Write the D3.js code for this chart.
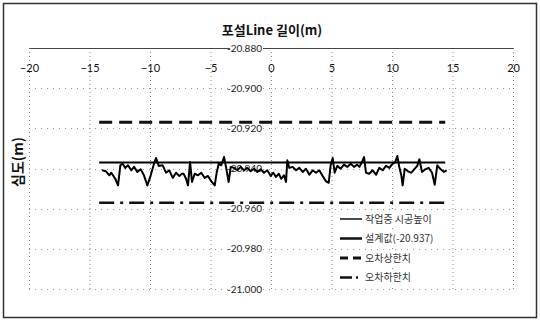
<!DOCTYPE html>
<html><head><meta charset="utf-8">
<script src="https://cdn.jsdelivr.net/npm/d3@7"></script>
<style>
html,body{margin:0;padding:0;background:#fff;}
svg{display:block;}
</style></head>
<body>
<svg id="c" width="540" height="322"></svg>
<script>
// ---- data ----
const chartTitle = "포설Line 길이(m)";
const yTitle = "심도(m)";
const xTicks = [-20, -15, -10, -5, 0, 5, 10, 15, 20];
const yTicks = [-20.880, -20.900, -20.920, -20.940, -20.960, -20.980, -21.000];
const seriesNames = ["작업중 시공높이", "설계값(-20.937)", "오차상한치", "오차하한치"];
const refRange = [-14.2, 14.4];
const designValue = -20.937;
const upperLimit = -20.917;
const lowerLimit = -20.957;
const measX = [-13.97,-13.64,-13.36,-13.20,-12.87,-12.64,-12.45,-12.26,-12.04,-11.82,-11.55,-11.32,-11.05,-10.77,-10.50,-10.22,-9.94,-9.67,-9.50,-9.28,-8.95,-8.68,-8.40,-8.12,-7.85,-7.58,-7.36,
 -7.22,-7.02,-6.86,-6.69,-6.53,-6.31,-6.03,-5.76,-5.48,-5.21,-4.93,-4.65,-4.49,-4.32,-4.11,-3.88,-3.72,-3.50,-3.33,-3.06,-2.79,-2.50,-2.23,-1.96,-1.68,-1.40,-1.13,-0.85,-0.58,-0.31,
 -0.02,0.19,0.41,0.64,0.85,1.07,1.24,1.35,1.51,1.79,2.07,2.34,2.62,2.89,3.17,3.45,3.72,3.99,4.27,4.55,4.77,4.93,5.10,5.26,5.48,5.76,6.03,6.31,6.59,6.86,7.13,
 7.30,7.52,7.69,7.85,8.12,8.40,8.68,8.95,9.23,9.50,9.78,10.06,10.27,10.44,10.60,10.77,10.88,11.05,11.32,11.60,11.88,12.09,12.26,12.48,12.75,13.03,13.31,13.53,13.74,14.02,14.30,14.52];
const measY = [-20.9409,-20.9414,-20.9434,-20.9421,-20.9451,-20.9484,-20.9384,-20.9376,-20.9397,-20.9384,-20.9409,-20.9392,-20.9417,-20.9404,-20.9434,-20.9484,-20.9434,-20.9376,-20.9348,-20.9387,-20.9384,-20.9421,-20.9409,-20.9447,-20.9421,-20.9437,-20.9426,
 -20.9426,-20.9451,-20.9484,-20.9368,-20.9467,-20.9426,-20.9434,-20.9421,-20.9447,-20.9437,-20.9464,-20.9484,-20.9421,-20.9376,-20.9384,-20.9343,-20.9392,-20.9467,-20.9392,-20.9397,-20.9409,-20.9392,-20.9409,-20.9397,-20.9414,-20.9401,-20.9417,-20.9404,-20.9421,-20.9409,
 -20.9437,-20.9421,-20.9442,-20.9426,-20.9451,-20.9434,-20.9467,-20.9359,-20.9397,-20.9392,-20.9409,-20.9397,-20.9417,-20.9401,-20.9431,-20.9409,-20.9421,-20.9409,-20.9437,-20.9464,-20.9471,-20.9384,-20.9348,-20.9421,-20.9387,-20.9401,-20.9381,-20.9392,-20.9376,-20.9392,-20.9381,
 -20.9392,-20.9368,-20.9343,-20.9421,-20.9426,-20.9409,-20.9431,-20.9397,-20.9409,-20.9387,-20.9397,-20.9376,-20.9368,-20.9338,-20.9392,-20.9434,-20.9484,-20.9401,-20.9414,-20.9421,-20.9401,-20.9387,-20.9354,-20.9417,-20.9404,-20.9397,-20.9421,-20.9481,-20.9384,-20.9404,-20.9417,-20.9409];

// ---- drawing ----
const svg = d3.select("#c");
svg.append("rect").attr("x",0).attr("y",0).attr("width",540).attr("height",322).attr("fill","#fff");
svg.append("rect").attr("x",3.5).attr("y",3.5).attr("width",533).attr("height",314)
  .attr("fill","none").attr("stroke","#333").attr("stroke-width",1.5);

const x = d3.scaleLinear().domain([-20,20]).range([29,513]);
const y = d3.scaleLinear().domain([-21.0,-20.88]).range([289,48]);

const grid = svg.append("g");
grid.selectAll("line.v").data(xTicks).join("line")
  .attr("x1",d=>x(d)+0.5).attr("x2",d=>x(d)+0.5)
  .attr("y1",y(-20.88)).attr("y2",y(-21.0))
  .attr("stroke","#888").attr("stroke-width",1).attr("stroke-dasharray","1,3");
grid.selectAll("line.h").data(yTicks.slice(1)).join("line")
  .attr("x1",x(-20)).attr("x2",x(20))
  .attr("y1",d=>Math.round(y(d))+0.5).attr("y2",d=>Math.round(y(d))+0.5)
  .attr("stroke","#999").attr("stroke-width",1).attr("stroke-dasharray","1,5");

// x axis at top
const xAxis = d3.axisTop(x).tickValues(xTicks).tickSize(0).tickPadding(0).tickFormat(d3.format("d"));
const gx = svg.append("g").attr("transform",`translate(0,${y(-20.88)})`).call(xAxis);
gx.select(".domain").attr("stroke","#444").attr("stroke-width",1);
gx.selectAll("text").attr("dy","0").attr("y",24)
  .attr("font-family","Lato, 'Liberation Sans', sans-serif").attr("font-size",11).attr("fill","#111");

// y tick labels (next to the x=0 position)
const yl = svg.append("g");
yTicks.forEach(v=>{
  yl.append("rect").attr("x",x(0)-41).attr("y",y(v)-5).attr("width",33).attr("height",10).attr("fill","#fff");
});
yl.selectAll("text").data(yTicks).join("text")
  .attr("x",x(0)-9).attr("y",d=>y(d)+3.5)
  .attr("text-anchor","end")
  .attr("font-family","Lato, 'Liberation Sans', sans-serif").attr("font-size",10).attr("fill","#222")
  .text(d=>d3.format(".3f")(d).replace("−","-"));

// reference lines
const refLine = v => d3.line().x(d=>x(d)).y(()=>y(v))(refRange);
svg.append("path").attr("d",refLine(upperLimit)).attr("fill","none")
  .attr("stroke","#111").attr("stroke-width",3).attr("stroke-dasharray","13,7");
svg.append("path").attr("d",refLine(lowerLimit)).attr("fill","none")
  .attr("stroke","#111").attr("stroke-width",2.5).attr("stroke-dasharray","15,6,3,6");
svg.append("path").attr("d",refLine(designValue)).attr("fill","none")
  .attr("stroke","#000").attr("stroke-width",2);

// measured series
const meas = measX.map((v,i)=>[v,measY[i]]);
svg.append("path").datum(meas)
  .attr("d",d3.line().x(d=>x(d[0])).y(d=>y(d[1])))
  .attr("fill","none").attr("stroke","#000").attr("stroke-width",2).attr("stroke-linejoin","round");

// titles
svg.append("text").attr("x",272).attr("y",35).attr("text-anchor","middle")
  .attr("font-family","'Noto Sans CJK KR', sans-serif").attr("font-weight","bold").attr("font-size",13).attr("fill","#111")
  .text(chartTitle);
svg.append("text").attr("transform","translate(23,162) rotate(-90)").attr("text-anchor","middle")
  .attr("font-family","'Noto Sans CJK KR', sans-serif").attr("font-weight","bold").attr("font-size",14).attr("fill","#111")
  .text(yTitle);

// legend
const legStyles = [
  {w:1.5, dash:null},
  {w:2.5, dash:null},
  {w:3, dash:"8,5"},
  {w:2.5, dash:"12,4,2,4"}
];
const leg = svg.append("g");
seriesNames.forEach((name,i)=>{
  const yy = 219 + i*19.5;
  leg.append("rect").attr("x",336).attr("y",yy-8).attr("width",90).attr("height",16).attr("fill","#fff");
  const l = leg.append("line").attr("x1",340).attr("x2",362).attr("y1",yy).attr("y2",yy)
    .attr("stroke","#111").attr("stroke-width",legStyles[i].w);
  if (legStyles[i].dash) l.attr("stroke-dasharray",legStyles[i].dash);
  leg.append("text").attr("x",365).attr("y",yy+3.5)
    .attr("font-family","'Noto Sans CJK KR', sans-serif").attr("font-size",10).attr("fill","#333")
    .text(name);
});
</script>
</body></html>
